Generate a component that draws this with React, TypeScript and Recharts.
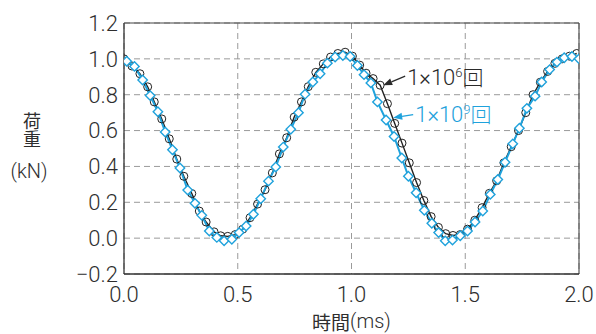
import React from 'react';
import { LineChart, Line, XAxis, YAxis, CartesianGrid, ReferenceLine, ReferenceDot } from 'recharts';

// 1×10^6 cycles (black circles)
const circleTimes = [0, 0.035, 0.07, 0.104, 0.133, 0.166, 0.199, 0.232, 0.263, 0.298, 0.331, 0.361, 0.396, 0.425, 0.456, 0.489, 0.522, 0.554, 0.587, 0.62, 0.652, 0.683, 0.715, 0.748, 0.78, 0.81, 0.843, 0.876, 0.908, 0.94, 0.972, 1.004, 1.036, 1.064, 1.095, 1.126, 1.158, 1.19, 1.222, 1.254, 1.286, 1.318, 1.35, 1.382, 1.414, 1.446, 1.478, 1.51, 1.542, 1.574, 1.606, 1.638, 1.67, 1.702, 1.734, 1.766, 1.798, 1.83, 1.862, 1.894, 1.926, 1.958, 1.99];
const circleLoads = [1.0, 0.96, 0.917, 0.844, 0.76, 0.665, 0.554, 0.441, 0.345, 0.249, 0.151, 0.09, 0.035, 0.013, 0.01, 0.02, 0.05, 0.114, 0.19, 0.27, 0.364, 0.47, 0.56, 0.675, 0.76, 0.845, 0.925, 0.972, 1.01, 1.03, 1.037, 1.015, 0.965, 0.92, 0.89, 0.853, 0.75, 0.64, 0.53, 0.42, 0.31, 0.21, 0.12, 0.06, 0.025, 0.015, 0.02, 0.05, 0.1, 0.17, 0.25, 0.32, 0.42, 0.51, 0.6, 0.7, 0.8, 0.87, 0.93, 0.975, 1.0, 1.015, 1.03];

// 1×10^9 cycles (cyan diamonds)
const diamondTimes = [0.012, 0.046, 0.082, 0.115, 0.149, 0.181, 0.213, 0.246, 0.28, 0.312, 0.342, 0.375, 0.408, 0.44, 0.474, 0.506, 0.537, 0.569, 0.601, 0.635, 0.667, 0.7, 0.733, 0.767, 0.796, 0.83, 0.862, 0.894, 0.928, 0.962, 0.994, 1.026, 1.055, 1.085, 1.114, 1.152, 1.187, 1.221, 1.25, 1.284, 1.32, 1.353, 1.383, 1.412, 1.444, 1.478, 1.51, 1.543, 1.577, 1.61, 1.643, 1.675, 1.709, 1.738, 1.771, 1.807, 1.836, 1.871, 1.903, 1.935, 1.969, 2.0];
const diamondLoads = [0.987, 0.958, 0.882, 0.795, 0.705, 0.592, 0.493, 0.391, 0.268, 0.194, 0.127, 0.04, 0.004, -0.015, -0.006, 0.031, 0.068, 0.133, 0.22, 0.318, 0.397, 0.508, 0.607, 0.7, 0.803, 0.871, 0.917, 0.976, 1.01, 1.019, 1.013, 0.963, 0.912, 0.866, 0.76, 0.659, 0.567, 0.447, 0.345, 0.253, 0.155, 0.083, 0.031, -0.015, -0.011, 0.013, 0.04, 0.09, 0.151, 0.244, 0.327, 0.423, 0.526, 0.613, 0.724, 0.792, 0.871, 0.94, 0.982, 1.006, 1.013, 1.0];

const xTicks = [0, 0.5, 1.0, 1.5, 2.0];
const yTicks = [-0.2, 0, 0.2, 0.4, 0.6, 0.8, 1.0, 1.2];

// annotation anchor points (data coordinates)
const annot6 = { t: 1.126, load: 0.853 };
const annot9 = { t: 1.17, load: 0.672 };

const circleData = circleTimes.map((t, i) => ({ t, load: circleLoads[i] }));
const diamondData = diamondTimes.map((t, i) => ({ t, load: diamondLoads[i] }));

const BLACK = '#222222';
const CYAN = '#1fa2dc';
const FONT = "Roboto, 'Liberation Sans', 'Noto Sans CJK JP', sans-serif";
const CJK = "'Noto Sans CJK JP', sans-serif";
const TEXT = '#2e2e2e';

const renderCircle = (p: any) => {
  if (p.cx == null || p.cy == null) return <g key={`c${p.index}`} />;
  return <circle key={`c${p.index}`} cx={p.cx} cy={p.cy} r={4} fill="none" stroke={BLACK} strokeWidth={1} />;
};

const renderDiamond = (p: any) => {
  if (p.cx == null || p.cy == null) return <g key={`d${p.index}`} />;
  const s = 4.7;
  const pts = `${p.cx},${p.cy - s} ${p.cx + s},${p.cy} ${p.cx},${p.cy + s} ${p.cx - s},${p.cy}`;
  return <polygon key={`d${p.index}`} points={pts} fill="#ffffff" stroke={CYAN} strokeWidth={1.4} />;
};

const Annot = (color: string, sup: string, dx: number, dy: number, tdy: number) => (p: any) => {
  const { cx, cy } = p;
  if (cx == null || cy == null) return <g />;
  const tipX = cx + 3;
  const tipY = cy;
  const tailX = cx + dx;
  const tailY = cy + dy;
  const ang = Math.atan2(tipY - tailY, tipX - tailX);
  const L = 9, W = 3.5;
  const bx = tipX - L * Math.cos(ang);
  const by = tipY - L * Math.sin(ang);
  const p1 = `${tipX},${tipY} ${bx + W * Math.sin(ang)},${by - W * Math.cos(ang)} ${bx - W * Math.sin(ang)},${by + W * Math.cos(ang)}`;
  return (
    <g>
      <line x1={tailX} y1={tailY} x2={bx} y2={by} stroke={color} strokeWidth={1.3} />
      <polygon points={p1} fill={color} />
      <text x={tailX + 2} y={cy + tdy} fill={color} fontSize={22} fontWeight={300} fontFamily={FONT}>
        1×10
        <tspan fontSize={13} dy={-8}>{sup}</tspan>
        <tspan dy={8} fontFamily={CJK} fontSize={21}>回</tspan>
      </text>
    </g>
  );
};

const YLabel = () => (
  <g fill={TEXT} textAnchor="start">
    <text x={32} y={112} fontFamily={CJK} fontSize={18} style={{ writingMode: 'vertical-rl' as any }}>
      荷重
    </text>
    <text x={29} y={171} textAnchor="middle" dominantBaseline="central" fontFamily={FONT} fontWeight={300} fontSize={20}>(kN)</text>
  </g>
);

const XLabel = (p: any) => {
  const vb = p.viewBox || {};
  const cx = (vb.x || 0) + (vb.width || 0) / 2;
  return (
    <text x={cx} y={321} textAnchor="middle" dominantBaseline="central" fill={TEXT} fontSize={19} fontFamily={CJK}>
      時間<tspan fontFamily={FONT} fontWeight={300} fontSize={20}>(ms)</tspan>
    </text>
  );
};

export default function App() {
  return (
    <div style={{ position: 'absolute', left: 0, top: 0, width: 596, height: 334, background: '#fff' }}>
      <LineChart width={596} height={334} margin={{ top: 23, right: 17, bottom: 30, left: 0 }}>
        <CartesianGrid stroke="#9a9a9a" strokeDasharray="6 4" strokeWidth={1} />
        <XAxis
          dataKey="t"
          type="number"
          domain={[0, 2]}
          ticks={xTicks}
          allowDataOverflow
          tickFormatter={(v: number) => v.toFixed(1)}
          tickLine={false}
          axisLine={false}
          tickSize={0}
          tickMargin={12}
          height={30}
          tick={{ fill: TEXT, fontSize: 22, fontFamily: FONT, fontWeight: 300 }}
          label={<XLabel />}
        />
        <YAxis
          type="number"
          domain={[-0.2, 1.2]}
          ticks={yTicks}
          allowDataOverflow
          interval={0}
          tickFormatter={(v: number) => (v < 0 ? '\u2212' + Math.abs(v).toFixed(1) : v.toFixed(1))}
          tickLine={false}
          axisLine={false}
          tickSize={0}
          tickMargin={6}
          width={124}
          tick={{ fill: TEXT, fontSize: 22, fontFamily: FONT, fontWeight: 300 }}
          label={<YLabel />}
        />
        <ReferenceLine x={0} stroke="#333" strokeWidth={1.3} ifOverflow="visible" />
        <ReferenceLine x={2} stroke="#444" strokeWidth={1.1} ifOverflow="visible" />
        <ReferenceLine y={1.2} stroke="#444" strokeWidth={1.1} ifOverflow="visible" />
        <ReferenceLine y={-0.2} stroke="#333" strokeWidth={1.3} ifOverflow="visible" />
        <Line data={circleData} dataKey="load" type="linear" stroke={BLACK} strokeWidth={1.4} dot={renderCircle} isAnimationActive={false} />
        <Line data={diamondData} dataKey="load" type="linear" stroke={CYAN} strokeWidth={2} dot={renderDiamond} isAnimationActive={false} />
        <ReferenceDot x={annot6.t} y={annot6.load} r={0} shape={Annot('#2a2a2a', '6', 25, -9, 0)} ifOverflow="visible" />
        <ReferenceDot x={annot9.t} y={annot9.load} r={0} shape={Annot(CYAN, '9', 23, -3, 4)} ifOverflow="visible" />
      </LineChart>
    </div>
  );
}
